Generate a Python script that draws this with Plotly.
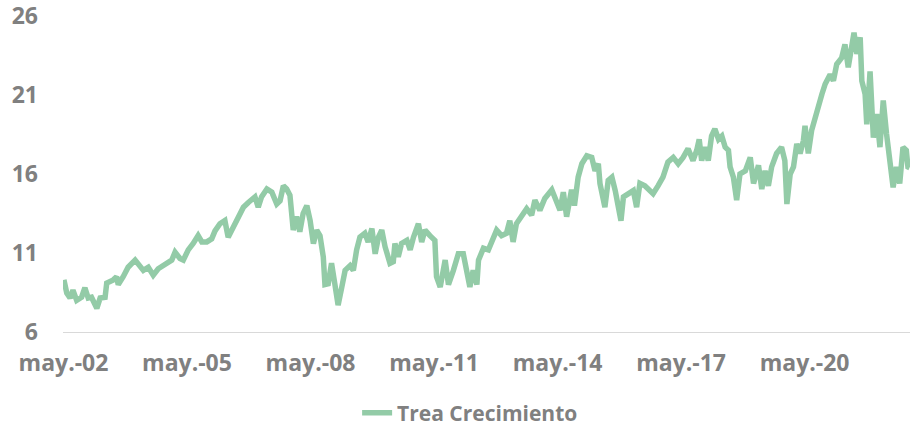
import plotly.graph_objects as go

# Time in decimal years, value of the fund
years = [
    2002.34, 2002.41, 2002.49, 2002.56, 2002.65, 2002.77, 2002.85, 2002.93, 2003.01, 2003.10,
    2003.14, 2003.22, 2003.34, 2003.38, 2003.54, 2003.62, 2003.66, 2003.78, 2003.90, 2004.07,
    2004.19, 2004.27, 2004.39, 2004.51, 2004.63, 2004.80, 2004.96, 2005.04, 2005.16, 2005.24,
    2005.36, 2005.48, 2005.60, 2005.69, 2005.81, 2005.93, 2006.01, 2006.13, 2006.25, 2006.33,
    2006.45, 2006.58, 2006.70, 2006.82, 2006.98, 2007.06, 2007.14, 2007.27, 2007.39, 2007.51,
    2007.59, 2007.67, 2007.75, 2007.83, 2007.91, 2007.99, 2008.07, 2008.15, 2008.24, 2008.32,
    2008.40, 2008.48, 2008.56, 2008.64, 2008.68, 2008.76, 2008.84, 2008.92, 2009.00, 2009.09,
    2009.17, 2009.29, 2009.37, 2009.45, 2009.53, 2009.65, 2009.73, 2009.82, 2009.90, 2009.98,
    2010.06, 2010.14, 2010.26, 2010.34, 2010.38, 2010.46, 2010.54, 2010.67, 2010.75, 2010.83,
    2010.95, 2011.03, 2011.11, 2011.23, 2011.35, 2011.39, 2011.48, 2011.60, 2011.68, 2011.80,
    2011.92, 2012.04, 2012.12, 2012.20, 2012.28, 2012.37, 2012.41, 2012.53, 2012.65, 2012.77,
    2012.85, 2012.97, 2013.09, 2013.17, 2013.25, 2013.33, 2013.46, 2013.58, 2013.70, 2013.78,
    2013.90, 2014.02, 2014.19, 2014.31, 2014.39, 2014.47, 2014.55, 2014.67, 2014.74, 2014.83,
    2014.92, 2015.04, 2015.16, 2015.24, 2015.32, 2015.36, 2015.44, 2015.48, 2015.56, 2015.65,
    2015.73, 2015.81, 2015.87, 2015.93, 2016.05, 2016.17, 2016.25, 2016.33, 2016.45, 2016.57,
    2016.65, 2016.77, 2016.89, 2017.01, 2017.14, 2017.26, 2017.38, 2017.50, 2017.62, 2017.71,
    2017.77, 2017.83, 2017.91, 2017.99, 2018.07, 2018.15, 2018.24, 2018.32, 2018.40, 2018.48,
    2018.52, 2018.60, 2018.68, 2018.76, 2018.89, 2019.01, 2019.09, 2019.21, 2019.29, 2019.37,
    2019.45, 2019.53, 2019.65, 2019.77, 2019.85, 2019.90, 2019.98, 2020.06, 2020.14, 2020.22,
    2020.30, 2020.34, 2020.42, 2020.50, 2020.58, 2020.66, 2020.75, 2020.83, 2020.95, 2021.03,
    2021.11, 2021.23, 2021.31, 2021.39, 2021.47, 2021.53, 2021.60, 2021.68, 2021.72, 2021.80,
    2021.84, 2021.92, 2022.00, 2022.08, 2022.16, 2022.24, 2022.32, 2022.40, 2022.48, 2022.56,
    2022.64, 2022.72, 2022.80, 2022.84, 2022.88,
]
values = [
    9.30, 8.46, 8.15, 8.65, 8.00, 8.20, 8.80, 8.15, 8.20, 7.70,
    7.50, 8.15, 8.20, 9.10, 9.30, 9.50, 9.00, 9.50, 10.10, 10.55,
    10.20, 9.90, 10.10, 9.60, 10.00, 10.30, 10.55, 11.05, 10.65, 10.55,
    11.20, 11.60, 12.10, 11.70, 11.70, 11.90, 12.40, 12.85, 13.05, 12.00,
    12.65, 13.20, 13.90, 14.20, 14.55, 13.90, 14.55, 15.05, 14.85, 14.10,
    14.30, 15.25, 15.05, 14.65, 12.45, 13.30, 12.35, 13.50, 14.00, 13.05,
    11.60, 12.45, 12.10, 10.75, 9.00, 9.05, 10.35, 9.05, 7.70, 8.85,
    9.90, 10.20, 9.90, 11.20, 12.00, 12.25, 11.70, 12.55, 10.95, 12.00,
    12.45, 11.40, 10.35, 10.45, 11.60, 10.75, 11.60, 11.80, 11.20, 12.00,
    12.85, 11.70, 12.45, 12.10, 11.80, 9.50, 8.85, 10.55, 9.00, 9.90,
    10.95, 10.95, 9.70, 8.85, 9.90, 9.00, 10.55, 11.30, 11.20, 12.00,
    12.45, 12.10, 12.25, 13.05, 11.70, 12.85, 13.30, 13.80, 13.40, 14.35,
    13.70, 14.45, 15.00, 14.10, 13.70, 14.85, 13.30, 15.00, 14.00, 15.80,
    16.65, 17.15, 17.05, 16.20, 16.65, 15.40, 14.45, 13.90, 15.60, 15.80,
    14.95, 13.70, 13.05, 14.55, 14.75, 14.95, 13.90, 15.40, 15.25, 14.95,
    14.75, 15.25, 15.80, 16.75, 17.05, 16.65, 17.05, 17.60, 16.85, 17.50,
    18.20, 16.85, 17.70, 16.85, 18.40, 18.85, 18.20, 18.40, 17.70, 17.50,
    16.45, 15.80, 14.35, 16.00, 16.20, 17.05, 15.40, 16.55, 15.05, 16.20,
    15.25, 16.45, 17.30, 17.70, 16.85, 14.10, 16.00, 16.45, 17.90, 17.30,
    18.10, 19.05, 17.30, 18.75, 19.60, 20.20, 21.05, 21.70, 22.30, 21.90,
    22.95, 23.35, 24.20, 22.75, 24.40, 24.95, 23.60, 24.65, 21.90, 21.05,
    19.15, 22.50, 18.30, 19.80, 17.70, 20.65, 18.55, 16.65, 15.15, 16.45,
    15.40, 17.70, 17.50, 16.45, 16.40,
]

series_name = "Trea Crecimiento"
tick_years = [2002.33, 2005.33, 2008.33, 2011.33, 2014.33, 2017.33, 2020.33]
tick_labels = ["may.-02", "may.-05", "may.-08", "may.-11", "may.-14", "may.-17", "may.-20"]
y_ticks = [6, 11, 16, 21, 26]

GREEN = "#93cba7"
GREY = "#808080"
TICKFONT = dict(family="Open Sans", size=23, color=GREY, weight="bold")
LEGFONT = dict(family="Open Sans", size=21, color=GREY, weight="bold")

W, H = 920, 427

fig = go.Figure()
fig.add_trace(go.Scatter(
    x=years, y=values, mode="lines", name=series_name,
    line=dict(color=GREEN, width=5.5),
))

fig.update_layout(
    width=W, height=H,
    margin=dict(l=63, r=10, t=16, b=95, autoexpand=False),
    paper_bgcolor="white", plot_bgcolor="white",
    font=TICKFONT,
    showlegend=True,
    legend=dict(orientation="h", x=0.511, xref="container", xanchor="center",
                y=14 / H, yref="container", yanchor="middle",
                font=LEGFONT, bgcolor="rgba(0,0,0,0)"),
    xaxis=dict(range=[2002.318, 2022.89], tickvals=tick_years, ticktext=tick_labels,
               showgrid=False, zeroline=False, showline=True, linecolor="#d9d9d9",
               linewidth=1, ticks="", ticklabelstandoff=10, tickfont=TICKFONT,
               automargin=False, ticklabeloverflow="allow"),
    yaxis=dict(range=[6, 26], tickvals=y_ticks, showgrid=False, zeroline=False,
               showline=False, ticks="", ticklabelstandoff=24, tickfont=TICKFONT,
               automargin=False, ticklabeloverflow="allow"),
)

# remove the browser's default 8px body margin so the figure fills the window
fig.write_html("out.html", config={"displayModeBar": False},
               post_script="document.body.style.margin='0';")
